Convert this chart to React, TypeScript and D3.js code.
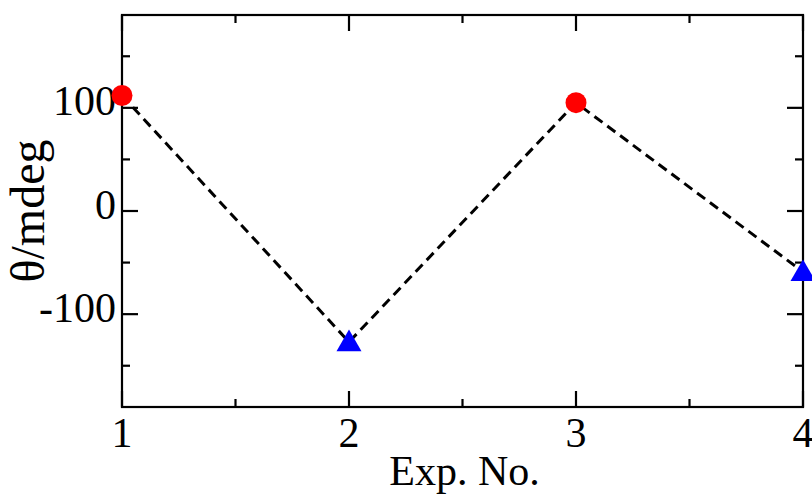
import React from "react";
import * as d3 from "d3";

// Experiment numbers and measured ellipticity
const expNo = [1, 2, 3, 4];
const thetaValues = [112, -127, 105, -59];
const markerShapes = ["circle", "triangle", "circle", "triangle"];
const markerColors = ["#ff0000", "#0000ff", "#ff0000", "#0000ff"];

const xMajorTicks = [1, 2, 3, 4];
const xMinorTicks = [1.5, 2.5, 3.5];
const yMajorTicks = [-100, 0, 100];
const yMinorTicks = [-150, -50, 50, 150];

const W = 812;
const H = 495;
const margin = { left: 122, right: 9, top: 15, bottom: 88 };
const FONT = "'Liberation Serif', 'Times New Roman', serif";

export default function App() {
  const x = d3.scaleLinear().domain([1, 4]).range([margin.left, W - margin.right]);
  const y = d3.scaleLinear().domain([-190, 190]).range([H - margin.bottom, margin.top]);

  const [x0, x1] = x.range();
  const [y0, y1] = y.range(); // y0 bottom, y1 top

  const line = d3
    .line<number>()
    .x((_, i) => x(expNo[i]))
    .y((d) => y(d));

  const triangle = d3.symbol(d3.symbolTriangle, 270);
  const majorLen = 16;
  const minorLen = 8;
  const axisStroke = { stroke: "#000", strokeWidth: 2.2 };

  return (
    <div style={{ position: "fixed", left: 0, top: 0 }}>
      <svg width={W} height={H} style={{ display: "block", background: "#fff" }}>
        <rect x={0} y={0} width={W} height={H} fill="#fff" />

        {/* frame */}
        <rect x={x0} y={y1} width={x1 - x0} height={y0 - y1} fill="none" {...axisStroke} />

        {/* x ticks: bottom and top, pointing inward */}
        {xMajorTicks.map((t) => (
          <g key={"xm" + t}>
            <line x1={x(t)} x2={x(t)} y1={y0} y2={y0 - majorLen} {...axisStroke} />
            <line x1={x(t)} x2={x(t)} y1={y1} y2={y1 + majorLen} {...axisStroke} />
          </g>
        ))}
        {xMinorTicks.map((t) => (
          <g key={"xn" + t}>
            <line x1={x(t)} x2={x(t)} y1={y0} y2={y0 - minorLen} {...axisStroke} />
            <line x1={x(t)} x2={x(t)} y1={y1} y2={y1 + minorLen} {...axisStroke} />
          </g>
        ))}

        {/* y ticks: left and right, pointing inward */}
        {yMajorTicks.map((t) => (
          <g key={"ym" + t}>
            <line x1={x0} x2={x0 + majorLen} y1={y(t)} y2={y(t)} {...axisStroke} />
            <line x1={x1} x2={x1 - majorLen} y1={y(t)} y2={y(t)} {...axisStroke} />
          </g>
        ))}
        {yMinorTicks.map((t) => (
          <g key={"yn" + t}>
            <line x1={x0} x2={x0 + minorLen} y1={y(t)} y2={y(t)} {...axisStroke} />
            <line x1={x1} x2={x1 - minorLen} y1={y(t)} y2={y(t)} {...axisStroke} />
          </g>
        ))}

        {/* tick labels */}
        {xMajorTicks.map((t) => (
          <text
            key={"xl" + t}
            x={x(t)}
            y={y0 + 40}
            textAnchor="middle"
            fontFamily={FONT}
            fontSize={42}
            fill="#000"
          >
            {t}
          </text>
        ))}
        {yMajorTicks.map((t) => (
          <text
            key={"yl" + t}
            x={x0 - 6}
            y={y(t) + 7.5}
            textAnchor="end"
            fontFamily={FONT}
            fontSize={42}
            fill="#000"
          >
            {t < 0 ? "-" + Math.abs(t) : t}
          </text>
        ))}

        {/* axis titles */}
        <text
          x={(x0 + x1) / 2 + 2}
          y={485}
          textAnchor="middle"
          fontFamily={FONT}
          fontSize={42}
          fill="#000"
        >
          Exp. No.
        </text>
        <text
          transform={`translate(44, ${(y0 + y1) / 2}) rotate(-90)`}
          textAnchor="middle"
          fontFamily={FONT}
          fontSize={48}
          fill="#000"
        >
          θ/mdeg
        </text>

        {/* dashed connecting line */}
        <path
          d={line(thetaValues) || ""}
          fill="none"
          stroke="#000"
          strokeWidth={3}
          strokeDasharray="10 6"
        />

        {/* markers */}
        {thetaValues.map((v, i) =>
          markerShapes[i] === "circle" ? (
            <circle key={"m" + i} cx={x(expNo[i])} cy={y(v)} r={10.5} fill={markerColors[i]} />
          ) : (
            <path
              key={"m" + i}
              d={triangle() || ""}
              transform={`translate(${x(expNo[i])}, ${y(v) + 2})`}
              fill={markerColors[i]}
            />
          )
        )}
      </svg>
    </div>
  );
}
